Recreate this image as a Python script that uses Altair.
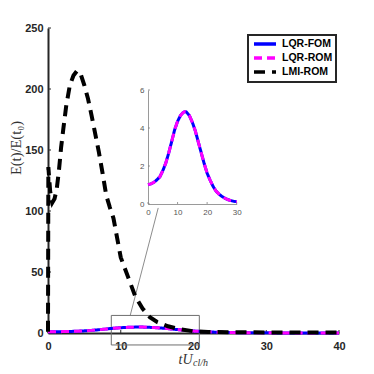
import altair as alt
import pandas as pd

# ---------------- data ----------------
lmi_t = [0, 0.05, 0.3, 0.6, 0.9, 1.2, 1.5, 1.8, 2.1, 2.5, 3.0, 3.5, 4.0, 4.5, 5.0, 5.5,
         6.0, 6.5, 7.0, 7.5, 8.0, 8.5, 9.0, 10.0, 11.0, 12.0, 13.0, 14.0, 15.0, 16.5,
         18.0, 20.0, 22.0, 25.0, 30.0, 35.0, 40.0]
lmi_E = [1, 136, 116, 107, 110, 118, 133, 152, 167, 186, 203, 211, 215, 212, 203, 192,
         178, 163, 148, 131, 113, 103, 94, 62, 46, 30, 20, 13, 9, 5.5,
         3.3, 1.4, 0.9, 0.6, 0.5, 0.4, 0.4]

lqr_t = [0, 1, 2, 3, 4, 5, 6, 7, 8, 9, 10, 11, 12, 12.6, 13, 14, 15, 16, 17, 18, 19,
         20, 21, 22, 23, 24, 25, 26, 27, 28, 29, 30, 32, 34, 36, 38, 40]
lqr_fom_E = [1.02, 1.06, 1.14, 1.27, 1.43, 1.75, 2.15, 2.68, 3.28, 3.9, 4.35, 4.66, 4.83,
             4.86, 4.84, 4.65, 4.3, 3.85, 3.27, 2.7, 2.13, 1.62, 1.26, 0.93, 0.68, 0.52,
             0.4, 0.3, 0.23, 0.18, 0.14, 0.12, 0.08, 0.06, 0.04, 0.03, 0.03]
lqr_rom_E = [1.02, 1.06, 1.14, 1.27, 1.43, 1.75, 2.15, 2.68, 3.28, 3.9, 4.35, 4.66, 4.83,
             4.86, 4.84, 4.65, 4.3, 3.85, 3.27, 2.7, 2.13, 1.62, 1.26, 0.93, 0.68, 0.52,
             0.4, 0.3, 0.23, 0.18, 0.14, 0.12, 0.08, 0.06, 0.04, 0.03, 0.03]

series_names = ["LQR-FOM", "LQR-ROM", "LMI-ROM"]
series_colors = ["#0000ff", "#ff00ff", "#000000"]
series_dash = [[1, 0], [8, 5], [11, 7]]

y_ticks = [0, 50, 100, 150, 200, 250]
x_ticks = [0, 10, 20, 30, 40]
inset_x_ticks = [0, 10, 20, 30]
inset_y_ticks = [0, 2, 4, 6]

zoom_t = [8.7]
zoom_t2 = [20.8]
zoom_E = [-9.8]
zoom_E2 = [14.4]
conn_t = [11.3]
conn_t2 = [15.15]
conn_E = [14.4]
conn_E2 = [102.5]

# ---------------- frames ----------------
df_fom = pd.DataFrame({"t": lqr_t, "E": lqr_fom_E, "series": "LQR-FOM"})
df_rom = pd.DataFrame({"t": lqr_t, "E": lqr_rom_E, "series": "LQR-ROM"})
df_lmi = pd.DataFrame({"t": lmi_t, "E": lmi_E, "series": "LMI-ROM"})
df_fom_in = df_fom[df_fom.t <= 30]
df_rom_in = df_rom[df_rom.t <= 30]
df_yt = pd.DataFrame({"v": y_ticks})
df_xt = pd.DataFrame({"v": x_ticks})
df_iyt = pd.DataFrame({"v": inset_y_ticks})
df_ixt = pd.DataFrame({"v": inset_x_ticks})
df_box = pd.DataFrame({"t": zoom_t, "t2": zoom_t2, "E": zoom_E, "E2": zoom_E2})
df_conn = pd.DataFrame({"t": conn_t, "t2": conn_t2, "E": conn_E, "E2": conn_E2})
df_sub = pd.DataFrame({"s": ["cl/h"]})

W, H = 291, 305
AX = "#262626"

legend = alt.Legend(
    title=None, orient="none", legendX=200, legendY=7,
    symbolType="M-2.75,0H2.75", symbolSize=64, symbolStrokeWidth=3.5, symbolOffset=8,
    labelFont="Liberation Sans", labelFontWeight="bold", labelFontSize=10.5,
    labelColor="black", labelOffset=11, padding=3, rowPadding=0,
    strokeColor=AX, fillColor="white",
)
color = alt.Color("series:N", scale=alt.Scale(domain=series_names, range=series_colors), legend=legend)
dash = alt.StrokeDash("series:N", scale=alt.Scale(domain=series_names, range=series_dash), legend=legend)

mx_scale = alt.Scale(domain=[0, 40], nice=False)
my_scale = alt.Scale(domain=[0, 250], nice=False)
mx_axis = alt.Axis(values=x_ticks, format="d", ticks=False, tickSize=0, grid=False,
                   domainColor=AX, domainWidth=2, labelColor=AX, labelFont="Liberation Sans",
                   labelFontWeight="bold", labelFontSize=11, labelPadding=7, labelOverlap=False,
                   labelFlush=False,
                   title="tU", titleFont="Liberation Serif", titleFontStyle="italic",
                   titleFontWeight="normal", titleFontSize=14, titleColor="#333333",
                   titleAlign="right", titleBaseline="alphabetic", titleX=144, titleY=30)
my_axis = alt.Axis(values=y_ticks, format="d", ticks=False, tickSize=0, grid=False,
                   domainColor=AX, domainWidth=2, labelColor=AX, labelFont="Liberation Sans",
                   labelFontWeight="bold", labelFontSize=11, labelPadding=5, labelOverlap=False,
                   title="E(t)/E(t₀)", titleFont="Liberation Serif", titleFontWeight="normal",
                   titleFontSize=14.5, titleColor="#333333", titleAngle=270,
                   titleAlign="center", titleBaseline="bottom", titleX=-25, titleY=119.5)


def mx(f="t"):
    return alt.X(f"{f}:Q", scale=mx_scale, axis=mx_axis)


def my(f="E"):
    return alt.Y(f"{f}:Q", scale=my_scale, axis=my_axis)


box = alt.Chart(df_box).mark_rect(fill="transparent", stroke="#6e6e6e", strokeWidth=1).encode(
    x=mx(), x2="t2:Q", y=my(), y2="E2:Q")
conn = alt.Chart(df_conn).mark_rule(color="#6e6e6e", strokeWidth=0.8).encode(
    x=mx(), x2="t2:Q", y=my(), y2="E2:Q")
ytk = alt.Chart(df_yt).mark_rule(color=AX, strokeWidth=1).encode(
    y=my("v"), x=alt.value(0), x2=alt.value(3))
xtk = alt.Chart(df_xt).mark_rule(color=AX, strokeWidth=1).encode(
    x=mx("v"), y=alt.value(H), y2=alt.value(H - 3))
fom = alt.Chart(df_fom).mark_line(strokeWidth=3).encode(x=mx(), y=my(), color=color, strokeDash=dash)
rom = alt.Chart(df_rom).mark_line(strokeWidth=3).encode(x=mx(), y=my(), color=color, strokeDash=dash)
lmi = alt.Chart(df_lmi).mark_line(strokeWidth=4).encode(x=mx(), y=my(), color=color, strokeDash=dash)
sub = alt.Chart(df_sub).mark_text(align="left", baseline="alphabetic", font="Liberation Serif",
                                  fontStyle="italic", fontSize=10, color="#333333").encode(
    text="s:N", x=alt.value(145), y=alt.value(H + 33))

main = alt.layer(box, conn, ytk, xtk, fom, rom, lmi, sub)

# ---------------- inset ----------------
GR = "#555555"
ix_scale = alt.Scale(domain=[0, 30], range=[100, 188.7], nice=False)
iy_scale = alt.Scale(domain=[0, 6], range=[176, 62], nice=False)
ix_axis = alt.Axis(orient="bottom", offset=-(H - 176), values=inset_x_ticks, format="d",
                   ticks=False, tickSize=0, grid=False, domainColor="#808080", domainWidth=0.8,
                   labelColor=GR, labelFont="Liberation Sans", labelFontSize=8, labelPadding=4,
                   labelFlush=False, title=None)
iy_axis = alt.Axis(orient="left", offset=-100, values=inset_y_ticks, format="d",
                   ticks=False, tickSize=0, grid=False, domainColor="#808080", domainWidth=0.8,
                   labelColor=GR, labelFont="Liberation Sans", labelFontSize=8, labelPadding=4,
                   title=None)


def ix(f="t"):
    return alt.X(f"{f}:Q", scale=ix_scale, axis=ix_axis)


def iy(f="E"):
    return alt.Y(f"{f}:Q", scale=iy_scale, axis=iy_axis)


iyt = alt.Chart(df_iyt).mark_rule(color="#808080", strokeWidth=0.8).encode(
    y=iy("v"), x=alt.value(100), x2=alt.value(102))
ixt = alt.Chart(df_ixt).mark_rule(color="#808080", strokeWidth=0.8).encode(
    x=ix("v"), y=alt.value(176), y2=alt.value(174))
ifom = alt.Chart(df_fom_in).mark_line(strokeWidth=3).encode(x=ix(), y=iy(), color=color, strokeDash=dash)
irom = alt.Chart(df_rom_in).mark_line(strokeWidth=3).encode(x=ix(), y=iy(), color=color, strokeDash=dash)

inset = alt.layer(iyt, ixt, ifom, irom)

chart = alt.layer(main, inset).resolve_scale(x="independent", y="independent").properties(
    width=W, height=H, autosize="none",
    padding={"left": 40, "top": 20, "right": 27, "bottom": 41},
).configure_view(stroke=None).configure_legend(strokeWidth=2)

chart.save("out.html", embed_options={"renderer": "svg", "actions": False})
